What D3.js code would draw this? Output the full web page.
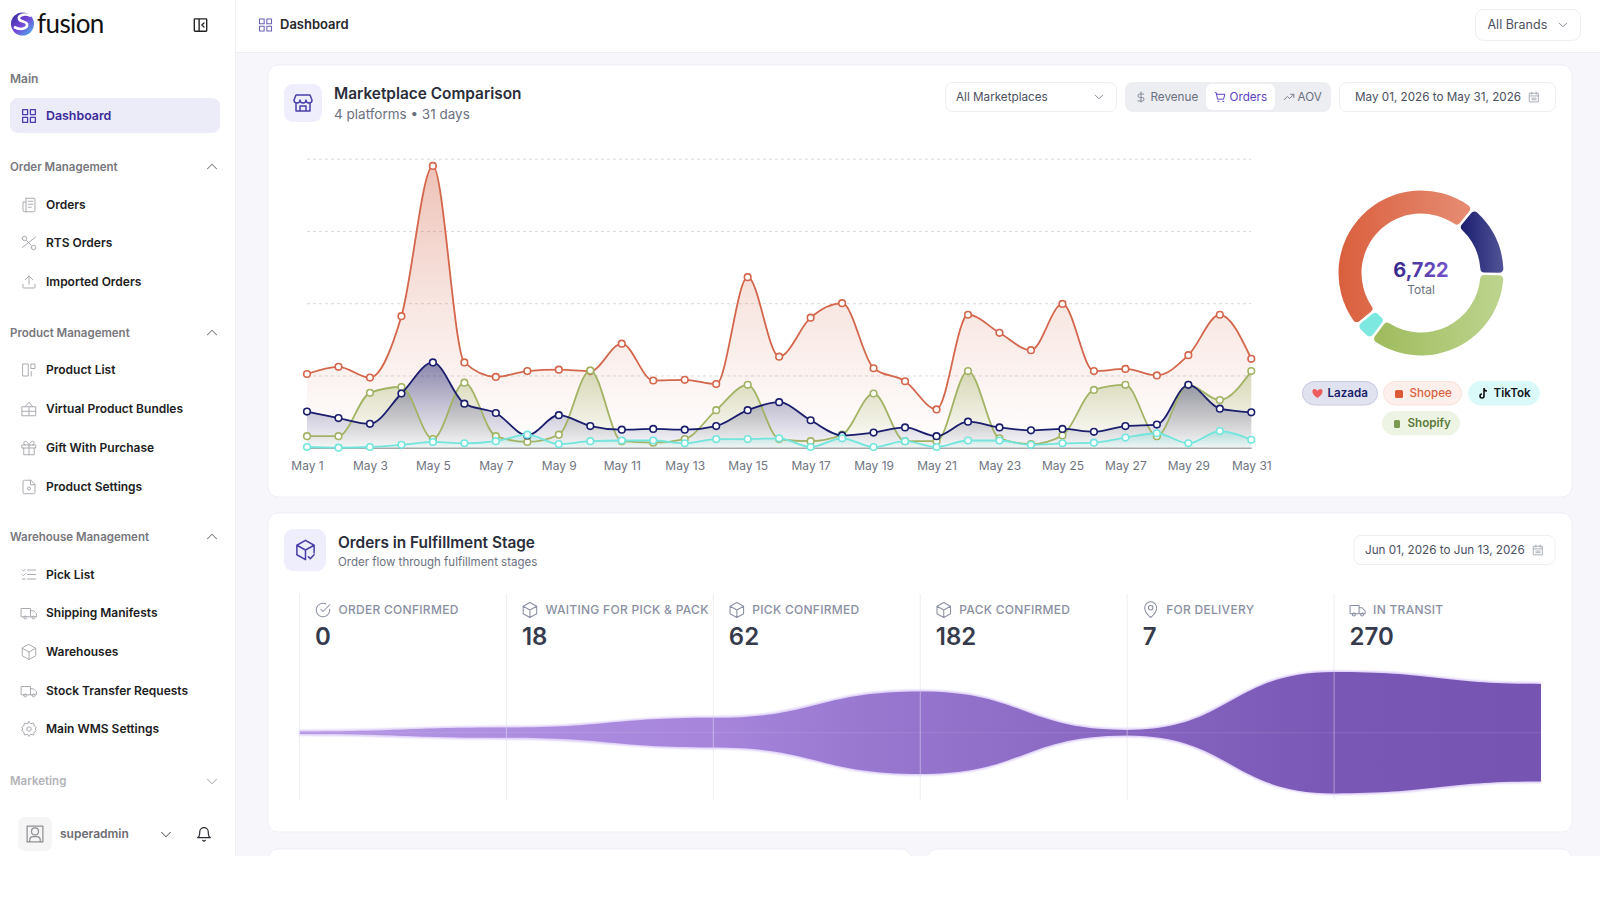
<!DOCTYPE html>
<html>
<head>
<meta charset="utf-8">
<title>Dashboard</title>
<script src="https://cdn.jsdelivr.net/npm/d3@7/dist/d3.min.js"></script>
<style>
    html, body { margin: 0; padding: 0; background: #fff; }
    svg { display: block; font-family: Inter, sans-serif; }
    .nav-item { font-size: 12px; font-weight: 600; fill: #1c1c22; }
    .nav-group { font-size: 11.5px; font-weight: 600; fill: #77777d; }
    .ctl { font-size: 11.7px; fill: #4b5060; }
    .stage-label { font-size: 12px; font-weight: 500; fill: #8a90a3; letter-spacing: .28px; }
    .stage-value { font-size: 24px; font-weight: 600; fill: #363b4c; }
    .x-axis text { font-size: 12px; fill: #6f7480; font-family: Inter, sans-serif; }
</style>
</head>
<body>
<svg id="page" width="1600" height="900"></svg>
<script>
// chart values
const days = d3.range(1, 32).map(d => "May " + d);
const shopee = [102,112,97,182,390,118,98,106,108,106,144,93,94,88,236,126,180,200,110,92,53,184,159,135,199,106,109,100,128,184,123];
const shopify = [16,16,76,84,12,90,16,8,18,107,9,7,12,52,87,12,9,18,75,9,9,106,13,5,17,80,87,16,87,66,106];
const lazada = [50,41,33,75,118,61,48,17,45,30,25,26,25,30,52,63,38,17,21,28,16,36,28,24,26,22,30,32,87,54,49];
const tiktok = [1,0,1,4,8,6,9,18,5,9,10,10,6,12,12,13,1,13,1,9,1,10,10,4,6,7,14,20,6,23,11];
const gridTicks = [100, 200, 300, 400];

const shareNames = ["Lazada", "Shopify", "TikTok", "Shopee"];
const shareValues = [953, 2370, 240, 3159];

const stageNames = ["ORDER CONFIRMED", "WAITING FOR PICK & PACK", "PICK CONFIRMED", "PACK CONFIRMED", "FOR DELIVERY", "IN TRANSIT"];
const stageValues = [0, 18, 62, 182, 7, 270];
const flowTail = 216;

const navLabels = ["Orders", "RTS Orders", "Imported Orders", "Product List", "Virtual Product Bundles", "Gift With Purchase", "Product Settings", "Pick List", "Shipping Manifests", "Warehouses", "Stock Transfer Requests", "Main WMS Settings"];
const navGroups = ["Order Management", "Product Management", "Warehouse Management"];

const icons = {
    grid: "M3 3h7v7H3zM14 3h7v7h-7zM14 14h7v7h-7zM3 14h7v7H3z",
    up: "M6 15l6-6 6 6",
    down: "M6 9l6 6 6-6",
    doc: "M8 3h11a1 1 0 0 1 1 1v15a2 2 0 0 1-2 2H6a2 2 0 0 1-2-2V8h4M8 3v18M11 7h6M11 11h6M11 15h4",
    scissors: "M3 6a3 3 0 1 0 6 0a3 3 0 1 0-6 0M15 18a3 3 0 1 0 6 0a3 3 0 1 0-6 0M3 18L21 4M9 9l6 6",
    upload: "M12 15V4M7 9l5-5 5 5M4 15v4a1 1 0 0 0 1 1h14a1 1 0 0 0 1-1v-4",
    columns: "M4 4h7v16H4zM15 4h5v6h-5zM15 14v6",
    bundle: "M3 9h18v12H3zM12 9v12M3 15h18M7 9l5-6 5 6",
    gift: "M3 8h18v4H3zM5 12v9h14v-9M12 8v13M12 8S10 3 7.5 3a2.5 2.5 0 0 0 0 5M12 8s2-5 4.500-5a2.5 2.5 0 0 1 0 5",
    docgear: "M14 3H6a2 2 0 0 0-2 2v14a2 2 0 0 0 2 2h12a2 2 0 0 0 2-2V9zM14 3v6h6M10 14a2 2 0 1 0 4 0a2 2 0 1 0-4 0",
    list: "M10 6h11M10 12h11M10 18h11M3 6l1.5 1.5L7 5M3 12l1.5 1.5L7 11M3 18h4",
    truck: "M2 6h12v11H2zM14 9h4l4 4v4h-8M5 18a2 2 0 1 0 4 0a2 2 0 1 0-4 0M16 18a2 2 0 1 0 4 0a2 2 0 1 0-4 0",
    box: "M12 2l9 5v10l-9 5-9-5V7zM3 7l9 5 9-5M12 12v10",
    gear: "M9 12a3 3 0 1 0 6 0a3 3 0 1 0-6 0M12 2l2 3 4-1 1 4 3 2-2 2 2 2-3 2-1 4-4-1-2 3-2-3-4 1-1-4-3-2 2-2-2-2 3-2 1-4 4 1z",
    user: "M3 3h18v18H3zM8 9a4 4 0 1 0 8 0a4 4 0 1 0-8 0M6 21v-2a4 4 0 0 1 4-4h4a4 4 0 0 1 4 4v2",
    bell: "M6 9a6 6 0 0 1 12 0c0 7 3 8 3 8H3s3-1 3-8M10.3 21a2 2 0 0 0 3.4 0",
    panel: "M4 3h16a1 1 0 0 1 1 1v16a1 1 0 0 1-1 1H4a1 1 0 0 1-1-1V4a1 1 0 0 1 1-1zM10 3v18M17 9l-3 3 3 3",
    store: "M3 9l2-5h14l2 5M3 9a3 3 0 0 0 6 0 3 3 0 0 0 6 0 3 3 0 0 0 6 0M5 12v8h14v-8M9 20v-5h6v5",
    cal: "M4 5h16v16H4zM4 10h16M8 3v4M16 3v4M8 14h8M8 17h8",
    cart: "M3 4h2l2.5 12h11L21 7H6M8 20h2M17 20h2",
    trend: "M3 17l6-6 4 4 8-8M15 7h6v6",
    dollar: "M12 2v20M17 6H9.5a3.5 3.5 0 0 0 0 7h5a3.5 3.5 0 0 1 0 7H6",
    pin: "M12 22s8-6.5 8-13a8 8 0 0 0-16 0c0 6.5 8 13 8 13zM9 9a3 3 0 1 0 6 0a3 3 0 1 0-6 0",
    check: "M21 11v1a9 9 0 1 1-5.3-8.2M21 5l-9 9-3-3",
    boxcheck: "M12 2l9 5v8M12 22l-9-5V7l9-5M3 7l9 5 9-5M12 12v10M15 19l2 2 4-4"
};

const svg = d3.select("#page");
const defs = svg.append("defs");

function rect(x, y, w, h, r, fill, stroke) {
    return svg.append("rect").attr("x", x).attr("y", y).attr("width", w).attr("height", h)
        .attr("rx", r).attr("fill", fill).attr("stroke", stroke || "none");
}
function txt(x, y, s, cls, style) {
    const t = svg.append("text").attr("x", x).attr("y", y - 0.8).attr("dominant-baseline", "central").text(s);
    if (cls) t.attr("class", cls);
    for (const k in style || {}) t.style(k, style[k]);
    return t;
}
function icon(name, cx, cy, size, color, sw) {
    svg.append("path").attr("d", icons[name])
        .attr("transform", `translate(${cx - size / 2},${cy - size / 2}) scale(${size / 24})`)
        .attr("fill", "none").attr("stroke", color).attr("stroke-width", sw || 1.4)
        .attr("stroke-linecap", "round").attr("stroke-linejoin", "round");
}
function gradient(id, stops, x2, y2) {
    const g = defs.append("linearGradient").attr("id", id).attr("x1", 0).attr("y1", 0).attr("x2", x2).attr("y2", y2);
    stops.forEach(s => g.append("stop").attr("offset", s[0]).attr("stop-color", s[1]).attr("stop-opacity", s[2] === undefined ? 1 : s[2]));
}

// page frame
rect(0, 0, 1600, 856, 0, "#f6f6fb");
rect(0, 0, 235, 856, 0, "#fff");
rect(235, 0, 1365, 52, 0, "#fff");
svg.append("line").attr("x1", 235.5).attr("x2", 235.5).attr("y1", 0).attr("y2", 856).attr("stroke", "#eeeef3");
svg.append("line").attr("x1", 235).attr("x2", 1600).attr("y1", 52.5).attr("y2", 52.5).attr("stroke", "#eeeef3");

// logo
gradient("logoGrad", [[0, "#2f2a9c"], [.5, "#7446d6"], [.8, "#5a8fe6"], [1, "#4cc4e8"]], 1, 1);
svg.append("circle").attr("cx", 22.5).attr("cy", 24).attr("r", 11.5).attr("fill", "url(#logoGrad)");
svg.append("path").attr("d", "M31 16c-6-3-13-1-12 3 1 3 7 2 8 5 1 4-6 7-13 3").attr("fill", "none").attr("stroke", "#fff").attr("stroke-width", 2.6);
txt(37, 24, "fusion", null, { "font-family": "Lato", "font-weight": 400, "font-size": "26px", fill: "#111", "letter-spacing": "-.6px" });
icon("panel", 200.5, 25, 16.5, "#222", 2);

// sidebar
txt(10, 79, "Main", "nav-group", { "font-size": "12px" });
rect(10, 98, 210, 35, 8, "#ecebf8");
icon("grid", 29, 116, 17, "#4a3db0", 1.8);
txt(46, 116.5, "Dashboard", "nav-item", { fill: "#3a2a98", "font-size": "12.4px" });

const navGroupY = [167, 333, 537];
navGroups.forEach((g, i) => {
    txt(10, navGroupY[i] + 1, g, "nav-group");
    icon("up", 212, navGroupY[i] - 0.5, 18, "#77777d");
});
const navY = [205, 243, 282, 370, 409, 448, 487, 574.5, 613, 652, 691, 729];
const navIcons = ["doc", "scissors", "upload", "columns", "bundle", "gift", "docgear", "list", "truck", "box", "truck", "gear"];
navLabels.forEach((n, i) => {
    icon(navIcons[i], 29, navY[i], 18, "#a9a9af", 1.3);
    txt(46, navY[i] + .4, n, "nav-item");
});
txt(10, 782, "Marketing", "nav-group", { fill: "#b3b3b8" });
icon("down", 212, 781.5, 18, "#b3b3b8");
rect(18, 817, 34, 34, 7, "#f5f5f6");
icon("user", 35, 834, 21, "#8f8f94", 1.4);
txt(60, 834, "superadmin", "nav-item", { fill: "#6c6c72" });
icon("down", 166, 834.5, 18, "#66666c");
icon("bell", 204, 834, 17, "#2a2a30", 1.7);

// header
icon("grid", 265.5, 25, 16, "#6a62b8", 1.6);
txt(280, 25, "Dashboard", null, { "font-size": "13px", "font-weight": 600, fill: "#26262c" });
rect(1475.5, 9.5, 105, 31, 8, "#fff", "#eceef2");
txt(1487.5, 25, "All Brands", "ctl", { "font-size": "12.5px" });
icon("down", 1563, 25, 15, "#777b88");

// cards
rect(268, 65, 1304, 432, 10, "#fff", "#eff0f5");
rect(268, 513, 1304, 319, 10, "#fff", "#eff0f5");
rect(268, 849, 643, 40, 10, "#fff", "#eff0f5");
rect(927, 849, 645, 40, 10, "#fff", "#eff0f5");
rect(0, 856, 1600, 44, 0, "#fff");

// marketplace card header
rect(284, 84, 38, 38, 9, "#eeeefc");
icon("store", 303, 103, 24, "#4a3fa8", 1.5);
txt(334, 94, "Marketplace Comparison", null, { "font-size": "15.4px", "font-weight": 600, fill: "#2a2d3a" });
txt(334, 115, "4 platforms • 31 days", null, { "font-size": "13.5px", fill: "#6b7080" });

rect(945.5, 82.5, 171, 29, 7, "#fff", "#eceef2");
txt(956, 98, "All Marketplaces", "ctl");
icon("down", 1099, 97, 15, "#777b88");
rect(1125, 82, 206, 30, 8, "#eceef2");
rect(1206, 84, 69, 26, 6, "#fff");
icon("dollar", 1141, 97, 12, "#7a7f8e", 1.8);
txt(1150.5, 98, "Revenue", "ctl", { fill: "#6c7180" });
icon("cart", 1220, 97, 13, "#5b3fc4", 1.8);
txt(1229.5, 98, "Orders", "ctl", { fill: "#5b3fc4" });
icon("trend", 1289, 97, 13, "#7a7f8e", 1.8);
txt(1297.5, 98, "AOV", "ctl", { fill: "#6c7180" });
rect(1339.5, 82.5, 216, 29, 7, "#fff", "#eceef2");
txt(1355, 98, "May 01, 2026 to May 31, 2026", "ctl");
icon("cal", 1534, 97, 13, "#9a9eaa", 1.5);

// line chart
const x = d3.scalePoint().domain(days).range([307, 1251.3]);
const y = d3.scaleLinear().domain([0, 400]).range([447.7, 158.7]);

svg.append("g").attr("transform", "translate(307,0)")
    .call(d3.axisLeft(y).tickValues(gridTicks).tickSize(-944.3).tickFormat(""))
    .call(g => g.select(".domain").remove())
    .selectAll("line").attr("stroke", "#d9d9dc").attr("stroke-dasharray", "3 3");

const series = [
    { id: "shopee", values: shopee, color: "#d4664b", top: .4, mid: .16, low: 0 },
    { id: "shopify", values: shopify, color: "#a2b364", top: .42, mid: .2, low: .02 },
    { id: "lazada", values: lazada, color: "#1a1e6c", top: .5, mid: .25, low: .03 },
    { id: "tiktok", values: tiktok, color: "#72e5dc", top: .4, mid: .2, low: .05 }
];
const area = d3.area().x((d, i) => x(days[i])).y0(y(0)).y1(d => y(d)).curve(d3.curveMonotoneX);
const line = d3.line().x((d, i) => x(days[i])).y(d => y(d)).curve(d3.curveMonotoneX);

series.forEach(s => {
    gradient("fill-" + s.id, [[0, s.color, s.top], [.5, s.color, s.mid], [1, s.color, s.low]], 0, 1);
    svg.append("path").datum(s.values).attr("d", area).attr("fill", `url(#fill-${s.id})`);
});
svg.append("g").attr("class", "x-axis").attr("transform", `translate(0,${y(0)})`)
    .call(d3.axisBottom(x).tickValues(days.filter((d, i) => i % 2 == 0)).tickSize(0).tickPadding(14))
    .call(g => g.select(".domain").attr("stroke", "#a9a9ab").attr("stroke-width", 1.5));
series.forEach(s => {
    svg.append("path").datum(s.values).attr("d", line).attr("fill", "none").attr("stroke", s.color).attr("stroke-width", 1.8);
    svg.append("g").selectAll("circle").data(s.values).join("circle")
        .attr("cx", (d, i) => x(days[i])).attr("cy", d => y(d)).attr("r", 3.3)
        .attr("fill", "#fff").attr("stroke", s.color).attr("stroke-width", 1.6);
});

// donut
gradient("slice-Lazada", [[0, "#1b1f70"], [1, "#525496"]], 1, 0);
gradient("slice-Shopify", [[0, "#9fbb5c"], [1, "#bdd48e"]], 1, 0);
gradient("slice-TikTok", [[0, "#7ce8e0"], [1, "#7ce8e0"]], 1, 0);
gradient("slice-Shopee", [[0, "#d95f3d"], [1, "#e68c73"]], 1, 0);
const pie = d3.pie().sort(null).startAngle(39 * Math.PI / 180).endAngle(399 * Math.PI / 180).padAngle(.025);
const arc = d3.arc().innerRadius(59.5).outerRadius(82.5).cornerRadius(4);
svg.append("g").attr("transform", "translate(1421,273)").selectAll("path")
    .data(pie(shareValues)).join("path")
    .attr("d", arc).attr("fill", (d, i) => `url(#slice-${shareNames[i]})`);
gradient("totalGrad", [[0, "#35288a"], [1, "#7553cf"]], 1, 0);
txt(1421, 271, d3.format(",")(d3.sum(shareValues)), null, { "font-size": "20px", "font-weight": 700, fill: "url(#totalGrad)", "text-anchor": "middle" });
txt(1421, 290.5, "Total", null, { "font-size": "12px", fill: "#6d7182", "text-anchor": "middle" });

// legend chips
function chip(x0, y0, w, name, bg, border, color, weight, tx) {
    rect(x0 + .5, y0 + .5, w - 1, 23.5, 12, bg, border);
    txt(tx, y0 + 13, name, null, { "font-size": "11.6px", "font-weight": weight, fill: color });
}
chip(1302, 381, 76, "Lazada", "#e1e2ef", "#c6c8de", "#191d6c", 600, 1327.5);
svg.append("path").attr("d", "M1317.5 398c-7-4.5-5.5-9-3-9 1.5 0 2.5 1 3 2 .5-1 1.5-2 3-2 2.500 0 4 4.500-3 9z").attr("fill", "#ee5d5d");
chip(1383, 381, 79, "Shopee", "#fdf0ec", "#f9e0d9", "#d9623f", 500, 1409.5);
rect(1395, 390, 8, 8, 1.5, "#dd5a38");
chip(1468, 381, 72, "TikTok", "#dafafa", "#dafafa", "#15151a", 600, 1493.5);
svg.append("path").attr("d", "M1484 388v8a2 2 0 1 1-2-2M1484 388c0 2 1.500 3 3 3").attr("fill", "none").attr("stroke", "#111").attr("stroke-width", 1.6);
chip(1382, 411, 78, "Shopify", "#eef4e3", "#eef4e3", "#5c7a3c", 600, 1407.5);
rect(1394, 420, 6, 8, 1.5, "#7d9a52");

// fulfillment card header
rect(284, 529, 42, 42, 9, "#eeeefc");
icon("boxcheck", 305.5, 550, 23, "#4a3fa8", 1.6);
txt(338, 543, "Orders in Fulfillment Stage", null, { "font-size": "15.4px", "font-weight": 600, fill: "#2a2d3a" });
txt(338, 562.5, "Order flow through fulfillment stages", null, { "font-size": "11.5px", fill: "#6b7080" });
rect(1354, 535.500, 201, 29, 7, "#fff", "#eceef2");
txt(1365, 551, "Jun 01, 2026 to Jun 13, 2026", "ctl");
icon("cal", 1538, 550, 13, "#9a9eaa", 1.5);

// flow
const flowValues = stageValues.concat(flowTail);
const fx = d3.scaleLinear().domain([0, stageValues.length]).range([299.5, 1541]);
const half = d3.scaleLinear().domain([0, 270]).range([1.2, 60.7]);
const mid = 732.7;

defs.append("filter").attr("id", "soft").append("feGaussianBlur").attr("stdDeviation", .8);
gradient("flowGrad", [[0, "#b497e4"], [.33, "#a685db"], [.5, "#9474cc"], [.84, "#7957b5"], [1, "#7654b2"]], 1, 0);
stageNames.forEach((s, i) => {
    svg.append("line").attr("x1", fx(i)).attr("x2", fx(i)).attr("y1", 594).attr("y2", 800).attr("stroke", "#eeeff3");
});
[1, -1].forEach(side => {
    svg.append("path").datum(flowValues)
        .attr("d", d3.line().x((d, i) => fx(i)).y(d => mid + side * half(d)).curve(d3.curveBumpX))
        .attr("fill", "none").attr("stroke", "#d3bff5").attr("stroke-width", 2.6).attr("filter", "url(#soft)");
});
const flowArea = d3.area().x((d, i) => fx(i)).y0(d => mid + half(d)).y1(d => mid - half(d)).curve(d3.curveBumpX);
svg.append("path").datum(flowValues).attr("d", flowArea).attr("fill", "url(#flowGrad)");
svg.append("line").attr("x1", fx(0)).attr("x2", fx(stageNames.length)).attr("y1", mid).attr("y2", mid).attr("stroke", "#fff").attr("stroke-opacity", .1);

const stageIcons = ["check", "box", "box", "box", "pin", "truck"];
stageNames.forEach((s, i) => {
    // white hairline where a stage crosses the flow
    svg.append("line").attr("x1", fx(i)).attr("x2", fx(i)).attr("y1", mid - half(stageValues[i])).attr("y2", mid + half(stageValues[i])).attr("stroke", "#fff").attr("stroke-opacity", .4);
    icon(stageIcons[i], fx(i) + 23.5, 610, 18, "#8a90a3", 1.4);
    txt(fx(i) + 39, 610, s, "stage-label");
    txt(fx(i) + 15.5, 637, stageValues[i], "stage-value");
});
</script>
</body>
</html>
